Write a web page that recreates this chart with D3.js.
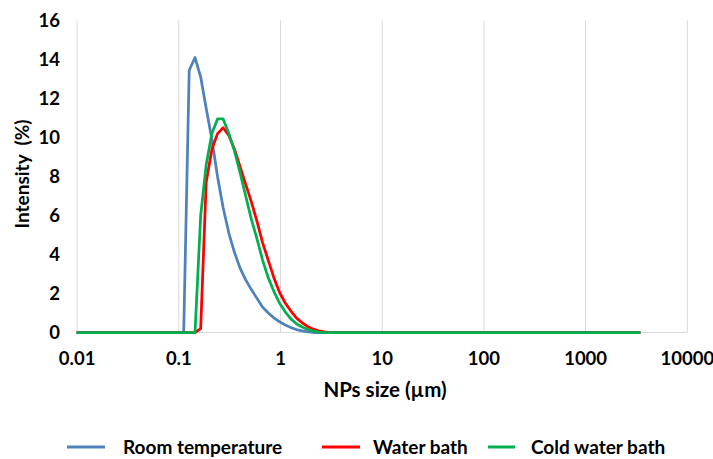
<!DOCTYPE html>
<html>
<head>
<meta charset="utf-8">
<script src="https://cdn.jsdelivr.net/npm/d3@7"></script>
<style>
  body { margin: 0; background: #fff; }
  svg text { font-family: Lato, "Open Sans", sans-serif; font-weight: bold; fill: #000; }
</style>
</head>
<body>
<svg id="chart" width="713" height="459"></svg>
<script>
// size classes (µm) - only the part where something happens, plus the two ends of the range
const sizes = [0.01, 0.0995, 0.113, 0.128, 0.146, 0.166, 0.188, 0.214, 0.243, 0.276, 0.314,
  0.357, 0.405, 0.460, 0.523, 0.594, 0.675, 0.767, 0.872, 0.991, 1.13,
  1.28, 1.45, 1.65, 1.88, 2.13, 2.42, 2.75, 3.12, 3.55, 3500];

const roomTemp = [0, 0, 0, 13.45, 14.1, 13.1, 11.5, 9.9, 8.0, 6.4, 5.1,
  4.1, 3.3, 2.7, 2.2, 1.75, 1.3, 1.0, 0.75, 0.55, 0.38,
  0.25, 0.15, 0.08, 0.03, 0, 0, 0, 0, 0, 0];

const waterBath = [0, 0, 0, 0, 0, 0.2, 7.7, 9.4, 10.2, 10.5, 10.1,
  9.4, 8.5, 7.6, 6.7, 5.7, 4.6, 3.7, 2.8, 2.05, 1.5,
  1.1, 0.75, 0.5, 0.3, 0.17, 0.08, 0.03, 0, 0, 0];

const coldWaterBath = [0, 0, 0, 0, 0, 6.0, 8.6, 10.2, 10.95, 10.95, 10.2,
  9.3, 8.2, 7.0, 5.8, 4.8, 3.7, 2.8, 2.1, 1.5, 1.05,
  0.7, 0.45, 0.28, 0.15, 0.07, 0.02, 0, 0, 0, 0];

const xTicks = [0.01, 0.1, 1, 10, 100, 1000, 10000];
const yTicks = [0, 2, 4, 6, 8, 10, 12, 14, 16];

const series = [
  { name: 'Room temperature', values: roomTemp, color: '#4F81BD' },
  { name: 'Water bath', values: waterBath, color: '#FF0000' },
  { name: 'Cold water bath', values: coldWaterBath, color: '#00B050' },
];

const svg = d3.select('#chart');

const x = d3.scaleLog().domain([0.01, 10000]).range([76.6, 686.8]);
const y = d3.scaleLinear().domain([0, 16]).range([332.5, 20.5]);

// vertical gridlines, one per decade
svg.append('g')
  .attr('transform', `translate(0,${y(0)})`)
  .call(d3.axisBottom(x).tickValues(xTicks).tickSize(-(y(0) - y(16))).tickFormat(''))
  .call((g) => g.select('.domain').remove())
  .call((g) => g.selectAll('line').attr('stroke', '#D9D9D9').attr('stroke-width', 1));

// baseline
svg.append('line')
  .attr('x1', x(0.01)).attr('x2', x(10000))
  .attr('y1', y(0)).attr('y2', y(0))
  .attr('stroke', '#D9D9D9');

// x tick labels
svg.append('g')
  .attr('transform', `translate(0,${y(0)})`)
  .call(d3.axisBottom(x).tickValues(xTicks).tickSize(0).tickPadding(19).tickFormat((d) => String(d)))
  .call((g) => g.select('.domain').remove())
  .call((g) => g.selectAll('text').style('font-size', '18.5px'));

// y tick labels
svg.append('g')
  .attr('transform', 'translate(60,0)')
  .call(d3.axisLeft(y).tickValues(yTicks).tickSize(0).tickPadding(0))
  .call((g) => g.select('.domain').remove())
  .call((g) => g.selectAll('text').style('font-size', '18.5px'));

// axis titles
svg.append('text')
  .attr('x', 385).attr('y', 397)
  .attr('text-anchor', 'middle')
  .style('font-size', '20.5px')
  .text('NPs size (µm)');

svg.append('text')
  .attr('transform', 'translate(28.5,174) rotate(-90)')
  .attr('text-anchor', 'middle')
  .style('font-size', '19px')
  .style('white-space', 'pre')
  .text('Intensity  (%)');

// the curves
const line = d3.line()
  .x((d, i) => x(sizes[i]))
  .y((d) => y(d));

svg.append('g')
  .selectAll('path')
  .data(series)
  .join('path')
  .attr('d', (d) => line(d.values))
  .attr('fill', 'none')
  .attr('stroke', (d) => d.color)
  .attr('stroke-width', 2.75)
  .attr('stroke-linejoin', 'round');

// legend
const legendX = [67, 322, 488];
const legend = svg.append('g')
  .selectAll('g')
  .data(series)
  .join('g')
  .attr('transform', (d, i) => `translate(${legendX[i]},447)`);

legend.append('line')
  .attr('x1', 0).attr('x2', (d, i) => (i === 2 ? 27 : 38))
  .attr('stroke', (d) => d.color)
  .attr('stroke-width', 3);

legend.append('text')
  .attr('x', (d, i) => (i === 2 ? 43 : (i === 1 ? 51 : 56)))
  .attr('dy', '0.35em')
  .style('font-size', '19px')
  .text((d) => d.name);
</script>
</body>
</html>
